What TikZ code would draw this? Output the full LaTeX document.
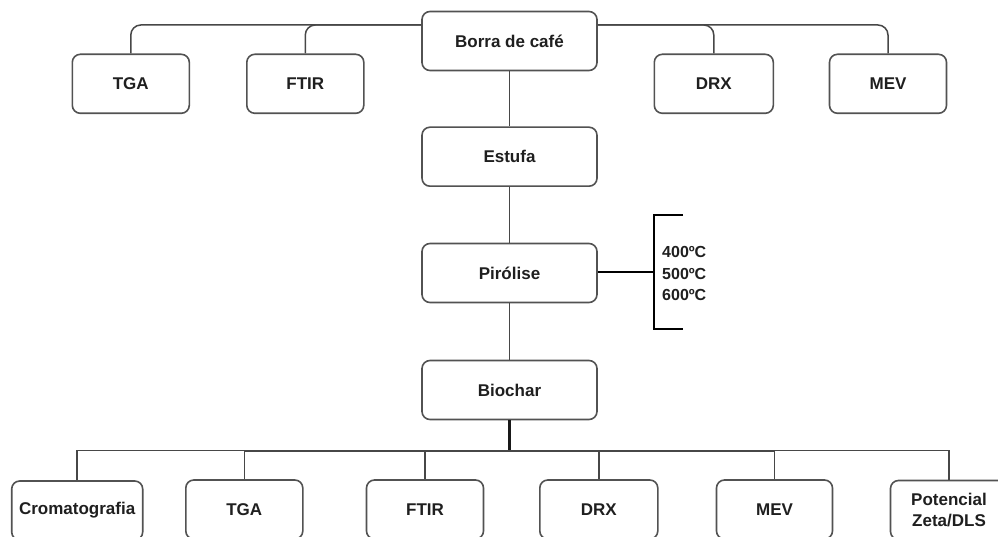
\documentclass[tikz,border=0pt]{standalone}
\usepackage{fontspec}
\setmainfont{Liberation Sans}
\begin{document}
\begin{tikzpicture}[x=1pt,y=-1pt,
  box/.style={draw=black!68, line width=1.6pt, rounded corners=8pt, fill=white,
    minimum height=59pt, inner sep=1pt, align=center, text=black!88,
    font=\fontsize{17}{21}\selectfont\bfseries},
  conn/.style={draw=black!72, line width=1.5pt},
  thick conn/.style={draw=black!90, line width=2.4pt},
  bracket/.style={draw=black, line width=2.6pt}]
\useasboundingbox (0,0) rectangle (998,537);
\clip (0,0) rectangle (998,537);
% main column
\node[box, minimum width=175pt] (borra) at (509.5,41) {Borra de café};
\node[box, minimum width=175pt] (estufa) at (509.5,156.7) {Estufa};
\node[box, minimum width=175pt] (pir) at (509.5,273) {Pirólise};
\node[box, minimum width=175pt] (bio) at (509.5,390) {Biochar};
% top row
\node[box, minimum width=117pt] (tga1) at (130.8,83.8) {TGA};
\node[box, minimum width=117pt] (ftir1) at (305.3,83.8) {FTIR};
\node[box, minimum width=119pt] (drx1) at (713.8,83.8) {DRX};
\node[box, minimum width=117pt] (mev1) at (888,83.8) {MEV};
% bottom row
\node[box, minimum width=131pt] (crom) at (77.2,510.5) {Cromatografia};
\node[box, minimum width=117pt] (tga2) at (244.3,509.5) {TGA};
\node[box, minimum width=117pt] (ftir2) at (425,509.5) {FTIR};
\node[box, minimum width=118pt] (drx2) at (598.8,509.5) {DRX};
\node[box, minimum width=116pt] (mev2) at (774.5,509.5) {MEV};
\node[box, minimum width=117pt] (pot) at (949,510) {Potencial\\[0pt]Zeta/DLS};
% top connectors
\coordinate (tl) at (0,25);
\draw[conn, rounded corners=10pt] (borra.west |- tl) -| (tga1.north);
\draw[conn, rounded corners=10pt] (borra.west |- tl) -| (ftir1.north);
\draw[conn, rounded corners=10pt] (borra.east |- tl) -| (drx1.north);
\draw[conn, rounded corners=10pt] (borra.east |- tl) -| (mev1.north);
% main vertical
\draw[conn] (borra.south) -- (estufa.north);
\draw[conn] (estufa.south) -- (pir.north);
\draw[conn] (pir.south) -- (bio.north);
% bottom distribution
\coordinate (bl) at (0,450.5);
\draw[thick conn] (bio.south) -- (bio.south |- bl);
\draw[conn] (crom.north) |- (pot.north |- bl) -- (pot.north);
\draw[conn, line width=2pt] (tga2.north |- bl) -- (mev2.north |- bl);
\draw[conn] (tga2.north |- bl) -- (tga2.north);
\draw[conn] (ftir2.north |- bl) -- (ftir2.north);
\draw[conn] (drx2.north |- bl) -- (drx2.north);
\draw[conn] (mev2.north |- bl) -- (mev2.north);
% temperature bracket
\coordinate (brmid) at (654,272);
\coordinate (brtop) at (683,215);
\coordinate (brbot) at (683,329);
\draw[draw=black, line width=2pt] (pir.east |- brmid) -- (brmid);
\draw[bracket] (brtop) -| (brmid) |- (brbot);
\node[anchor=west, align=left, inner sep=0pt, text=black!88,
  font=\fontsize{16}{21.6}\selectfont\bfseries] (temps) at (662,273.5)
  {400ºC\\500ºC\\600ºC};
\end{tikzpicture}
\end{document}
